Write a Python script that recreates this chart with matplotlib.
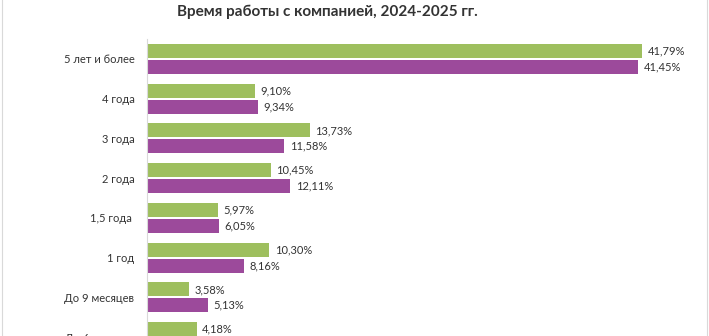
import numpy as np
import matplotlib.pyplot as plt
from matplotlib.lines import Line2D

plt.rcParams['font.family'] = ['Lato', 'DejaVu Sans']

categories = ["5 лет и более", "4 года", "3 года", "2 года", "1,5 года ",
              "1 год", "До 9 месяцев", "До 6 месяцев"]
vals_2024 = [41.79, 9.10, 13.73, 10.45, 5.97, 10.30, 3.58, 4.18]
vals_2025 = [41.45, 9.34, 11.58, 12.11, 6.05, 8.16, 5.13, 5.20]  # last one is cut off in the picture

green = "#9EBF5E"
purple = "#9C4A9B"

fig = plt.figure(figsize=(7.09, 3.36), dpi=100)
W, H = 709, 336
# axes placed in pixels; the bottom runs past the figure edge like the cropped original
left, top, unit = 147, 39, 39.75
ncat = len(categories)
ax = fig.add_axes([left / W, 1 - (top + ncat * unit) / H, 545 / W, ncat * unit / H])

y = np.arange(ncat)
off, h = 0.2, 0.35
ax.barh(y - off, vals_2024, height=h, color=green)
ax.barh(y + off, vals_2025, height=h, color=purple)

for yi, v in zip(y, vals_2024):
    ax.annotate(f"{v:.2f}%".replace(".", ","), (v, yi - off), xytext=(4, 0),
                textcoords="offset points", va="center", ha="left",
                fontsize=8, color="#333333")
for yi, v in zip(y, vals_2025):
    ax.annotate(f"{v:.2f}%".replace(".", ","), (v, yi + off), xytext=(4, 0),
                textcoords="offset points", va="center", ha="left",
                fontsize=8, color="#333333")

ax.set_xlim(0, 46)
ax.set_ylim(ncat - 0.5, -0.5)
ax.set_yticks(y)
ax.set_yticklabels(categories, fontsize=8, color="#333333")
ax.tick_params(axis="y", length=0, pad=9)
ax.set_xticks([])
for s in ["top", "right", "bottom"]:
    ax.spines[s].set_visible(False)
ax.spines["left"].set_color("#D9D9D9")
ax.spines["left"].set_linewidth(0.8)

fig.text(327 / W, 1 - 12 / H, "Время работы с компанией, 2024-2025 гг.",
         ha="center", va="center", fontsize=11, fontweight="bold", color="#333333")

# light frame edges of the chart area
fig.add_artist(Line2D([1.5 / W, 1.5 / W], [0, 1], color="#D9D9D9", lw=0.8))
fig.add_artist(Line2D([707 / W, 707 / W], [0, 1], color="#D9D9D9", lw=0.8))

fig.savefig("out.png", dpi=100)
